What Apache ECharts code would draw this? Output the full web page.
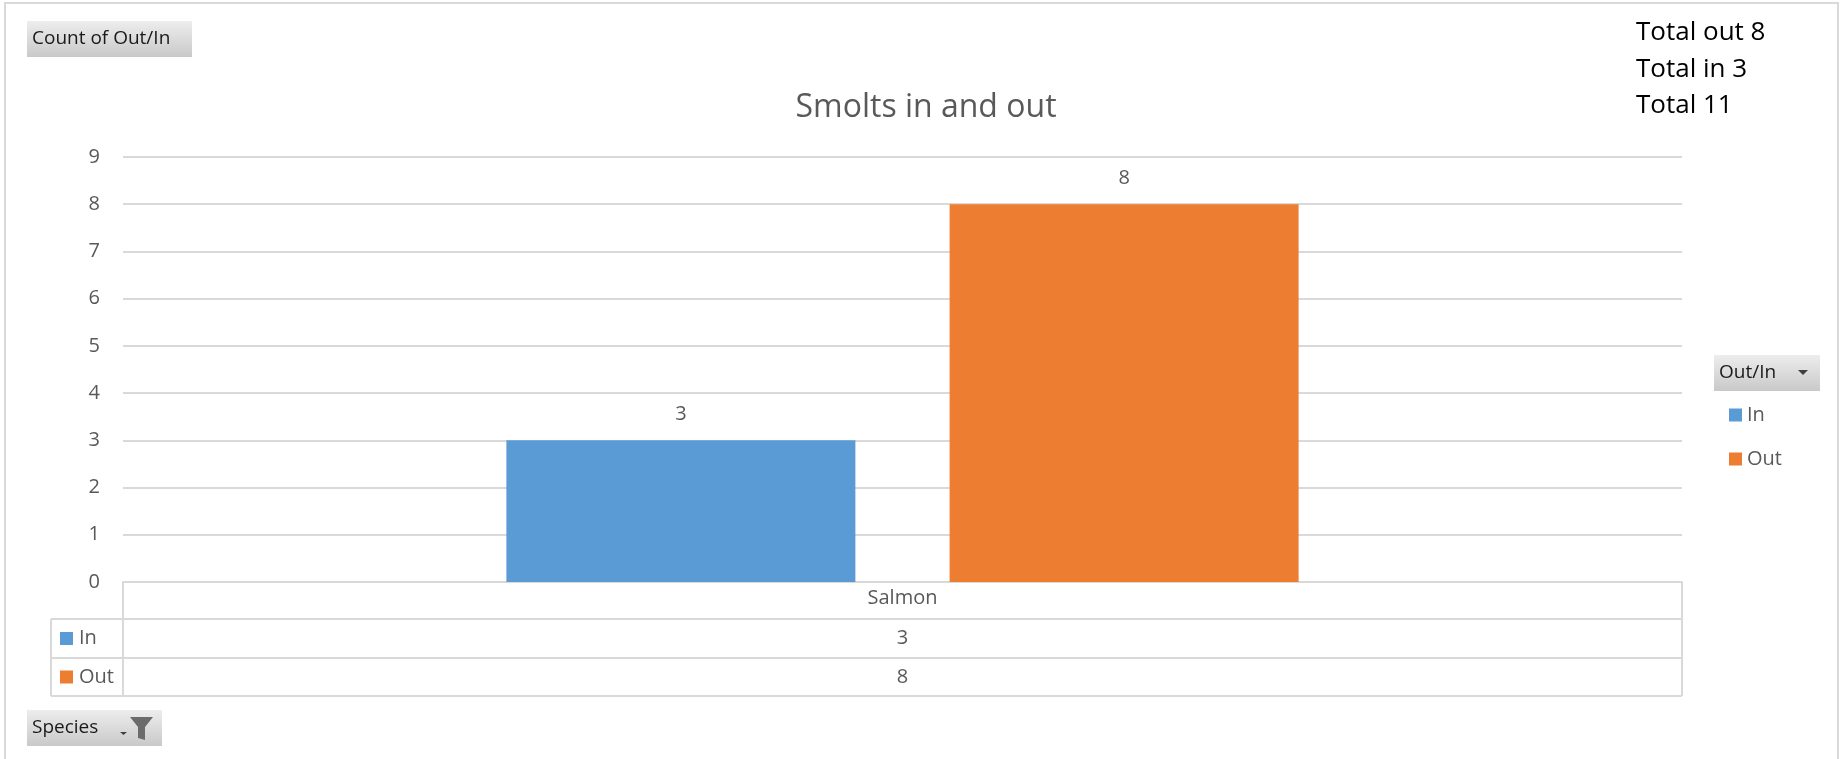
<!DOCTYPE html>
<html>
<head>
<meta charset="utf-8">
<title>Smolts in and out</title>
<script src="https://cdn.jsdelivr.net/npm/echarts@6/dist/echarts.min.js"></script>
<style>
  html, body { margin: 0; padding: 0; background: #ffffff; }
  #chart { width: 1841px; height: 759px; }
</style>
</head>
<body>
<div id="chart"></div>
<script>
// Pivot chart data: count of smolts by direction for each species
const categories = ['Salmon'];
const seriesNames = ['In', 'Out'];
const inValues = [3];
const outValues = [8];
const yAxisMax = 9;
const yAxisStep = 1;

const COLORS = { In: '#5B9BD5', Out: '#ED7D31' };
const FONT = '"Open Sans", "Noto Sans", sans-serif';
const TEXT_GREY = '#595959';
const LINE_GREY = '#d9d9d9';

// Plot area and data-table layout (pixels)
const W = 1841, H = 759;
const PLOT_L = 123, PLOT_R = 1682, PLOT_T = 157, AXIS_Y = 582;
const TABLE_COL_L = 51;
const ROW_Y = [AXIS_Y, 619, 658, 696];

const sum = a => a.reduce((s, v) => s + v, 0);
const totalOut = sum(outValues);
const totalIn = sum(inValues);

const chart = echarts.init(document.getElementById('chart'), null, { renderer: 'canvas' });

// Button with a grey gradient face, like a pivot field button
function fieldButton(x, y, w, h, label) {
  return [
    {
      type: 'rect',
      shape: { x: x, y: y, width: w, height: h },
      style: {
        fill: new echarts.graphic.LinearGradient(0, 0, 0, 1, [
          { offset: 0, color: '#ededed' },
          { offset: 1, color: '#c9c9c9' }
        ]),
        stroke: null
      },
      z: 10
    },
    {
      type: 'text',
      x: x + 5, y: y + h / 2,
      style: { text: label, fill: '#1a1a1a', font: '19px ' + FONT, verticalAlign: 'middle' },
      z: 11
    }
  ];
}

function hLine(x1, x2, y) {
  return { type: 'line', shape: { x1: x1, y1: y, x2: x2, y2: y }, style: { stroke: LINE_GREY, lineWidth: 2 }, z: 5 };
}
function vLine(x, y1, y2) {
  return { type: 'line', shape: { x1: x, y1: y1, x2: x, y2: y2 }, style: { stroke: LINE_GREY, lineWidth: 2 }, z: 5 };
}

const graphics = [];

// outer chart frame
graphics.push({
  type: 'rect',
  shape: { x: 5, y: 3, width: 1833, height: 820 },
  style: { fill: null, stroke: '#d9d9d9', lineWidth: 2 },
  z: 1
});

graphics.push(...fieldButton(27, 21, 165, 36, 'Count of Out/In'));

// Totals note in the top-right corner
[
  'Total out ' + totalOut,
  'Total in ' + totalIn,
  'Total ' + (totalOut + totalIn)
].forEach((t, i) => {
  graphics.push({
    type: 'text',
    x: 1636, y: 33 + i * 36.5,
    style: { text: t, fill: '#000000', font: '26px ' + FONT, verticalAlign: 'middle' },
    z: 10
  });
});

// Data table under the plot
graphics.push(hLine(TABLE_COL_L, PLOT_R, ROW_Y[1]));
graphics.push(hLine(TABLE_COL_L, PLOT_R, ROW_Y[2]));
graphics.push(hLine(TABLE_COL_L, PLOT_R, ROW_Y[3]));
graphics.push(vLine(PLOT_L, ROW_Y[0], ROW_Y[3]));
graphics.push(vLine(PLOT_R, ROW_Y[0], ROW_Y[3]));
graphics.push(vLine(TABLE_COL_L, ROW_Y[1], ROW_Y[3]));

const tableRows = [
  { name: seriesNames[0], values: inValues },
  { name: seriesNames[1], values: outValues }
];
tableRows.forEach((row, r) => {
  const yMid = (ROW_Y[r + 1] + ROW_Y[r + 2]) / 2;
  graphics.push({
    type: 'rect',
    shape: { x: 60, y: yMid - 6.5, width: 13, height: 13 },
    style: { fill: COLORS[row.name] },
    z: 10
  });
  graphics.push({
    type: 'text',
    x: 79, y: yMid,
    style: { text: row.name, fill: TEXT_GREY, font: '20px ' + FONT, verticalAlign: 'middle' },
    z: 10
  });
  const colW = (PLOT_R - PLOT_L) / categories.length;
  row.values.forEach((v, c) => {
    graphics.push({
      type: 'text',
      x: PLOT_L + colW * (c + 0.5), y: yMid,
      style: { text: String(v), fill: TEXT_GREY, font: '20px ' + FONT, align: 'center', verticalAlign: 'middle' },
      z: 10
    });
  });
});

// Legend field button
graphics.push(...fieldButton(1714, 355, 106, 36, 'Out/In'));
graphics.push({
  type: 'polygon',
  shape: { points: [[1798, 370], [1808, 370], [1803, 375]] },
  style: { fill: '#404040' },
  z: 12
});

// Axis field button with filter icon
graphics.push(...fieldButton(27, 710, 135, 36, 'Species'));
graphics.push({
  type: 'polygon',
  shape: { points: [[120, 732], [127, 732], [123.5, 735]] },
  style: { fill: '#404040' },
  z: 12
});
graphics.push({
  type: 'polygon',
  shape: { points: [[130, 717], [153, 717], [145, 727], [145, 740], [138, 738], [138, 727]] },
  style: { fill: '#6b6b6b' },
  z: 12
});

const option = {
  backgroundColor: '#ffffff',
  animation: false,
  textStyle: { fontFamily: FONT },
  title: {
    text: 'Smolts in and out',
    left: 921,
    top: 103,
    textAlign: 'center',
    textVerticalAlign: 'middle',
    textStyle: { color: TEXT_GREY, fontSize: 32, fontWeight: 'normal', fontFamily: FONT }
  },
  legend: {
    orient: 'vertical',
    left: 1724,
    top: 400,
    itemWidth: 13,
    itemHeight: 13,
    itemGap: 24,
    icon: 'rect',
    data: seriesNames,
    textStyle: { color: TEXT_GREY, fontSize: 20, fontFamily: FONT }
  },
  grid: {
    left: PLOT_L,
    right: W - PLOT_R,
    top: PLOT_T,
    bottom: H - AXIS_Y,
    containLabel: false
  },
  xAxis: {
    type: 'category',
    data: categories,
    axisLine: { show: true, lineStyle: { color: LINE_GREY, width: 2 } },
    axisTick: { show: false },
    axisLabel: { show: true, color: TEXT_GREY, fontSize: 20, fontFamily: FONT, margin: 6 },
    splitLine: { show: false }
  },
  yAxis: {
    type: 'value',
    min: 0,
    max: yAxisMax,
    interval: yAxisStep,
    axisLine: { show: false },
    axisTick: { show: false },
    axisLabel: { color: TEXT_GREY, fontSize: 20, fontFamily: FONT, margin: 23 },
    splitLine: { show: true, lineStyle: { color: LINE_GREY, width: 2 } }
  },
  series: [
    {
      name: seriesNames[0],
      type: 'bar',
      data: inValues,
      barWidth: 349,
      barGap: '27%',
      itemStyle: { color: COLORS.In },
      label: { show: true, position: 'top', distance: 16, color: TEXT_GREY, fontSize: 20, fontFamily: FONT }
    },
    {
      name: seriesNames[1],
      type: 'bar',
      data: outValues,
      barWidth: 349,
      barGap: '27%',
      itemStyle: { color: COLORS.Out },
      label: { show: true, position: 'top', distance: 16, color: TEXT_GREY, fontSize: 20, fontFamily: FONT }
    }
  ],
  graphic: graphics
};

chart.setOption(option);
</script>
</body>
</html>
